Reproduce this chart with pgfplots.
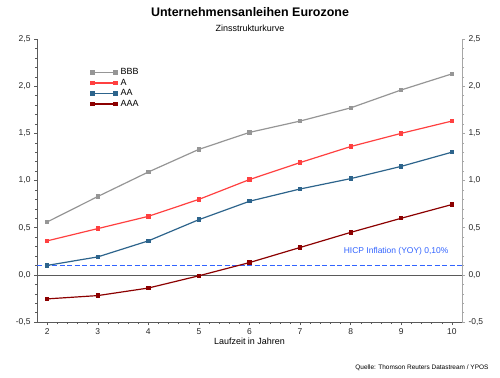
\documentclass[border=0pt]{standalone}
\usepackage{pgfplots}
\pgfplotsset{compat=1.18}
\usepackage{fontspec}
\setmainfont{Liberation Sans}
\definecolor{cBBB}{RGB}{150,150,150}
\definecolor{cA}{RGB}{255,64,64}
\definecolor{cAA}{RGB}{45,100,140}
\definecolor{cAAA}{RGB}{140,0,0}
\definecolor{cHICP}{RGB}{50,100,255}
\definecolor{axgray}{RGB}{90,90,90}
\begin{document}
\begin{tikzpicture}[x=1bp,y=1bp]
\path[fill=white] (0,0) rectangle (500,377);
\node[font=\fontsize{12.5}{14}\selectfont\bfseries] at (250,365) {Unternehmensanleihen Eurozone};
\node[font=\fontsize{9}{10}\selectfont] at (250,349) {Zinsstrukturkurve};
\node[font=\fontsize{6.5}{7}\selectfont, anchor=east] at (492,9) {Quelle: Thomson Reuters Datastream / YPOS};
\begin{axis}[
  at={(37bp,55bp)}, anchor=south west,
  scale only axis, width=425bp, height=283bp,
  xmin=1.8, xmax=10.2, ymin=-0.5, ymax=2.5,
  axis lines*=left,
  axis line style={axgray, line width=0.6pt},
  xtick={2,...,10}, ytick={-0.5,0,0.5,1,1.5,2,2.5},
  minor x tick num=4, minor y tick num=4,
  tick align=outside,
  major tick length=3bp, minor tick length=2bp,
  tick style={axgray, line width=0.4pt},
  minor tick style={axgray, line width=0.4pt},
  tick label style={font=\fontsize{8.5}{10}\selectfont, text=black!85},
  /pgf/number format/assume math mode=true,
  /pgf/number format/use comma,
  /pgf/number format/fixed, /pgf/number format/fixed zerofill,
  /pgf/number format/precision=1,
  xticklabel={\pgfmathprintnumber[fixed,precision=0,fixed zerofill=false]{\tick}},
  xlabel={Laufzeit in Jahren},
  xlabel style={font=\fontsize{9}{10}\selectfont, yshift=3bp},
  legend style={at={(0.127,0.90)}, anchor=north west, draw=none, fill=none,
    font=\fontsize{9}{10}\selectfont, row sep=0.4bp, inner sep=0pt,
    nodes={inner sep=1.2bp}},
  legend cell align=left,
  legend image code/.code={\draw[mark repeat=1, #1, line width=1.6pt] plot coordinates {(0bp,0bp) (23bp,0bp)};},
  clip=false,
]
\draw[axgray, line width=0.6pt] (axis cs:1.8,0) -- (axis cs:10.2,0);
\addplot[color=cHICP, line width=1.5pt, dash pattern=on 5bp off 2.5bp, forget plot] coordinates {(1.8,0.1) (10.2,0.1)};
\node[anchor=south east, text=cHICP, font=\fontsize{8.5}{10}\selectfont] at (axis cs:10.0,0.17) {HICP Inflation (YOY) 0,10\%};
\addplot[cBBB, line width=1.2pt, mark=square*, mark size=1.6bp] coordinates {
(2,0.56) (3,0.83) (4,1.09) (5,1.33) (6,1.51) (7,1.63) (8,1.77) (9,1.96) (10,2.13)};
\addlegendentry{\hspace{2bp}BBB}
\addplot[cA, line width=1.2pt, mark=square*, mark size=1.6bp] coordinates {
(2,0.36) (3,0.49) (4,0.62) (5,0.80) (6,1.01) (7,1.19) (8,1.36) (9,1.50) (10,1.63)};
\addlegendentry{\hspace{2bp}A}
\addplot[cAA, line width=1.2pt, mark=square*, mark size=1.6bp] coordinates {
(2,0.10) (3,0.19) (4,0.36) (5,0.585) (6,0.78) (7,0.91) (8,1.02) (9,1.15) (10,1.30)};
\addlegendentry{\hspace{2bp}AA}
\addplot[cAAA, line width=1.2pt, mark=square*, mark size=1.6bp] coordinates {
(2,-0.255) (3,-0.22) (4,-0.14) (5,-0.01) (6,0.13) (7,0.29) (8,0.45) (9,0.60) (10,0.745)};
\addlegendentry{\hspace{2bp}AAA}
\end{axis}
\begin{axis}[
  at={(37bp,55bp)}, anchor=south west,
  scale only axis, width=425bp, height=283bp,
  xmin=1.8, xmax=10.2, ymin=-0.5, ymax=2.5,
  axis x line=none, axis y line*=right,
  axis line style={gray!70, line width=0.8pt},
  ytick={-0.5,0,0.5,1,1.5,2,2.5},
  minor y tick num=4,
  tick align=outside,
  major tick length=3bp, minor tick length=2bp,
  tick style={gray!70, line width=0.4pt},
  tick label style={font=\fontsize{8.5}{10}\selectfont, text=black!85},
  /pgf/number format/assume math mode=true,
  /pgf/number format/use comma,
  /pgf/number format/fixed, /pgf/number format/fixed zerofill,
  /pgf/number format/precision=1,
]
\end{axis}
\end{tikzpicture}
\end{document}
